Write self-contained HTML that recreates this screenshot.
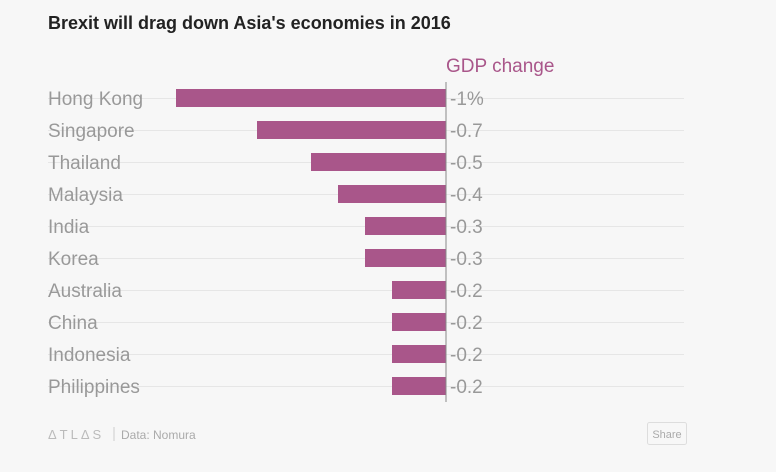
<!DOCTYPE html>
<html><head><meta charset="utf-8"><style>
body{margin:0;background:#f7f7f7;font-family:"Liberation Sans",sans-serif;}
svg{display:block}
</style></head><body>
<svg width="776" height="472">
<rect width="776" height="472" fill="#f7f7f7"/>
<text x="48" y="29" font-size="18" font-weight="bold" fill="#222">Brexit will drag down Asia's economies in 2016</text>
<text x="446" y="72" font-size="19" fill="#a9568a">GDP change</text>
<g id="plot"></g>
<line x1="446" y1="82" x2="446" y2="402" stroke="#888" stroke-width="1"/>
<text x="48" y="439" font-size="13" fill="#bbb" letter-spacing="3">ΔTLΔS</text>
<line x1="114" y1="427" x2="114" y2="441" stroke="#ccc"/>
<text x="121" y="439" font-size="12" fill="#aaa">Data: Nomura</text>
<rect x="647.5" y="422.5" width="39" height="22" rx="2" fill="#f7f7f7" stroke="#ddd"/>
<text x="667" y="438" font-size="11" fill="#aaa" text-anchor="middle">Share</text>
</svg>
<script>
const categories=["Hong Kong","Singapore","Thailand","Malaysia","India","Korea","Australia","China","Indonesia","Philippines"];
const values=[-1,-0.7,-0.5,-0.4,-0.3,-0.3,-0.2,-0.2,-0.2,-0.2];
const valueLabels=["-1%","-0.7","-0.5","-0.4","-0.3","-0.3","-0.2","-0.2","-0.2","-0.2"];
const NS="http://www.w3.org/2000/svg";
const g=document.getElementById('plot');
const x=v=>446+v*270;
const y=i=>98+i*32;
function mk(t,a){const e=document.createElementNS(NS,t);for(const k in a)e.setAttribute(k,a[k]);g.appendChild(e);return e;}
categories.forEach((c,i)=>{
  const gl=mk('line',{x1:48,x2:684,y1:y(i)+0.5,y2:y(i)+0.5,stroke:'#e6e6e6'});
  
  
  const lb=mk('text',{x:48,y:y(i)+7,'font-size':19,fill:'#999'});
  lb.textContent=c;
  
  
  const b=mk('rect',{x:x(values[i]),y:y(i)-9,width:446-x(values[i]),height:18,fill:'#a9568a'});
  
  
  const vl=mk('text',{x:450,y:y(i)+7,'font-size':19,fill:'#999'});
  vl.textContent=valueLabels[i];
  
  
});
</script>
</body></html>
